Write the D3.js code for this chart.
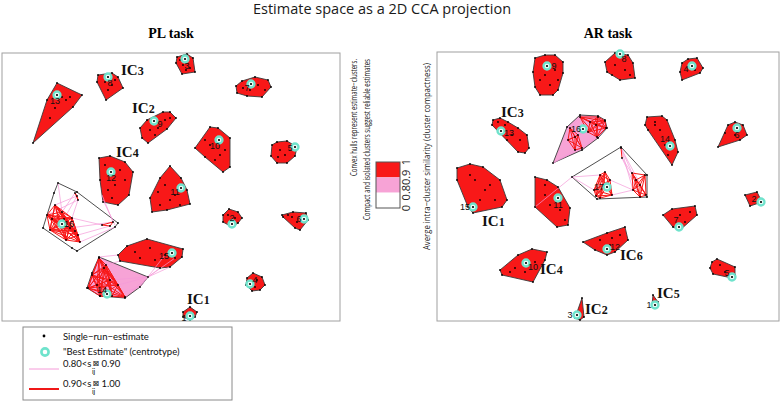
<!DOCTYPE html>
<html>
<head>
<meta charset="utf-8">
<script src="https://cdn.jsdelivr.net/npm/d3@7"></script>
<style>body{margin:0;background:#fff;}</style>
</head>
<body>
<script>
var width = 780;
var height = 402;

// cluster estimates, projection units (10px ~ 1 unit)
// sim = average intra-cluster similarity class
var plClusters = [
  {id: 8, sim: 0.95, best: [10.6, 24.4], lab: [10.8, 23.8], pts: [[9.6,24.6],[11.0,24.8],[11.6,24.4],[12.1,23.3],[10.4,22.1],[9.5,23.9],[10.3,23.9],[11.0,23.6],[10.6,23.1],[11.3,24.1]]},
  {id: 3, sim: 0.95, best: [18.3, 26.2], lab: [18.5, 25.5], pts: [[17.5,26.4],[18.5,26.7],[19.1,26.3],[19.3,24.9],[18.0,24.7],[17.4,25.8],[18.1,25.6],[18.8,25.3],[18.4,25.1],[17.8,26.1]]},
  {id: 9, sim: 0.95, best: [15.2, 20.0], lab: [15.8, 19.7], pts: [[13.8,19.3],[14.5,20.1],[16.1,20.9],[16.8,20.9],[17.4,20.3],[16.5,19.2],[14.6,17.8],[14.0,18.3],[14.8,19.1],[15.6,19.3],[16.3,20.1],[15.3,18.6],[16.8,20.3]]},
  {id: 13, sim: 0.95, best: [5.5, 22.6], lab: [5.3, 22.0], pts: [[5.5,23.8],[8.0,22.6],[7.1,21.4],[3.1,17.8],[4.5,22.1],[6.0,22.4],[5.3,21.3],[6.4,22.1],[4.8,20.3],[6.8,22.4]]},
  {id: 12, sim: 0.95, best: [10.9, 14.9], lab: [10.9, 14.3], pts: [[9.7,16.3],[10.8,16.5],[12.3,15.9],[13.1,14.9],[12.7,12.6],[11.6,11.6],[10.1,11.9],[9.8,14.1],[10.3,15.6],[11.8,15.1],[11.3,13.6],[10.6,13.1],[12.3,14.1],[11.0,12.3]]},
  {id: 11, sim: 0.95, best: [17.9, 13.3], lab: [17.3, 12.9], pts: [[16.8,15.5],[17.9,14.3],[18.5,13.1],[18.8,11.7],[16.5,11.1],[15.0,10.9],[14.8,12.3],[15.8,14.3],[16.3,13.6],[17.3,12.6],[15.8,11.6],[16.8,12.1],[17.8,11.6],[15.6,12.9]]},
  {id: 7, sim: 0.95, best: [24.9, 23.7], lab: [24.5, 23.3], pts: [[23.4,23.5],[24.0,24.0],[25.3,24.4],[26.6,24.1],[26.9,23.4],[26.0,22.4],[24.5,22.5],[23.5,22.8],[24.8,23.1],[25.6,23.6],[26.3,23.1],[24.1,23.3]]},
  {id: 10, sim: 0.95, best: [21.7, 18.1], lab: [21.3, 17.5], pts: [[19.3,17.3],[20.8,19.4],[21.6,19.3],[22.8,18.3],[22.8,15.4],[22.1,14.9],[20.3,16.4],[20.8,17.6],[21.8,16.6],[21.3,16.1],[22.3,17.1],[20.3,18.1]]},
  {id: 5, sim: 0.95, best: [29.3, 17.4], lab: [28.8, 17.3], pts: [[27.0,17.6],[27.5,17.9],[28.5,18.0],[29.5,17.4],[29.3,16.5],[28.5,15.8],[27.5,15.8],[26.9,16.5],[27.8,17.1],[28.3,16.6],[27.6,16.4]]},
  {id: 2, sim: 0.95, best: [23.0, 9.7], lab: [23.0, 10.3], pts: [[22.1,10.6],[22.7,11.2],[23.6,10.9],[24.0,10.3],[23.6,9.8],[23.0,9.4],[22.1,9.9],[22.6,10.6],[23.3,10.3]]},
  {id: 6, sim: 0.95, best: [30.2, 10.2], lab: [29.7, 10.2], pts: [[28.0,10.6],[29.1,10.9],[30.4,10.8],[30.6,10.1],[29.8,9.1],[29.3,9.3],[28.1,10.4],[29.0,10.4],[29.5,9.9],[28.6,10.6]]},
  {id: 4, sim: 0.95, best: [24.8, 3.7], lab: [25.3, 4.1], pts: [[24.5,4.3],[25.1,4.8],[26.0,4.4],[26.3,3.6],[25.8,3.1],[25.0,3.0],[24.4,3.6],[25.5,4.1],[25.3,3.4]]},
  {id: 1, sim: 0.95, best: [18.8, 0.5], lab: [18.2, 0.3], pts: [[18.1,0.9],[18.8,1.4],[19.5,0.9],[19.3,0.4],[18.8,0.1],[18.1,0.4]]},
  {id: 16, sim: 0.70, best: [6.0, 9.7], lab: [6.7, 9.7], pts: [[5.6,13.8],[7.5,12.9],[11.6,9.8],[11.3,9.4],[7.5,7.0],[7.0,7.3],[4.1,9.3],[5.2,12.8]]},
  {id: 15, sim: 0.95, best: [17.0, 6.8], lab: [16.2, 6.5], pts: [[11.6,6.6],[12.5,7.5],[14.5,8.2],[18.1,7.2],[18.0,6.4],[16.8,5.4],[15.8,5.3],[11.8,6.0],[13.3,6.9],[14.8,7.3],[16.3,6.6],[15.3,6.1],[17.3,6.3],[13.8,6.3]]},
  {id: 14, sim: 0.85, best: [10.5, 2.7], lab: [10.0, 3.1], pts: [[9.7,6.4],[14.6,4.4],[13.8,3.4],[12.3,2.3],[9.8,2.5],[8.5,3.3],[9.0,4.8]]}
];

// groups of estimates with similarity > 0.9 inside loose clusters
var plCores = [
  {id: 16, pts: [[4.5,10.6],[5.3,11.6],[6.0,10.9],[7.0,10.3],[7.6,8.6],[7.8,7.9],[6.4,8.1],[4.8,9.1],[5.8,9.5],[6.8,9.3],[5.0,10.2],[7.3,9.0],[6.2,10.2]]},
  {id: 16, pts: [[7.3,12.8],[7.6,12.1],[7.5,12.5]]},
  {id: 16, pts: [[10.0,9.6],[11.1,9.9],[10.8,9.5]]},
  {id: 14, pts: [[9.7,6.3],[10.2,5.3],[9.0,4.6],[8.6,3.3],[9.8,2.5],[11.0,2.5],[12.3,2.4],[11.6,3.6],[10.8,4.1],[10.4,5.6],[9.5,3.6]]}
];

// links with 0.80 < s <= 0.90
var plWeak = [
  [[7.5,12.5],[5.3,11.6]], [[7.3,12.8],[6.0,10.9]], [[7.6,12.1],[7.0,10.3]], [[7.6,12.1],[4.5,10.6]],
  [[7.5,12.5],[5.8,9.5]], [[5.6,13.8],[6.0,10.9]], [[10.0,9.6],[7.0,10.3]], [[10.8,9.5],[7.6,8.6]],
  [[11.1,9.9],[6.8,9.3]], [[11.3,9.4],[7.8,7.9]], [[10.0,12.6],[11.1,9.9]], [[10.1,12.1],[11.3,9.6]],
  [[14.6,4.4],[15.8,5.3]], [[14.6,4.4],[16.8,5.4]], [[13.8,3.4],[16.3,6.6]], [[14.6,4.4],[17.3,6.3]],
  [[9.7,6.4],[11.6,6.6]], [[10.4,5.6],[11.8,6.0]], [[12.3,2.4],[14.6,4.4]], [[11.6,3.6],[14.6,4.4]],
  [[11.0,2.5],[13.8,3.4]], [[10.8,4.1],[14.6,4.4]]
];

var plIC = [["IC", "3", 11.9, 24.6], ["IC", "2", 13.0, 20.8], ["IC", "4", 11.4, 16.4], ["IC", "1", 18.5, 1.7]];

var arClusters = [
  {id: 9, sim: 0.95, best: [11.0, 25.5], lab: [11.7, 25.5], pts: [[9.8,26.3],[10.8,26.6],[11.8,26.6],[12.6,25.9],[12.6,24.8],[12.1,23.1],[11.6,22.6],[10.3,22.6],[9.8,23.4],[9.6,24.9],[10.8,24.6],[11.8,25.1],[11.3,23.6],[12.1,24.1],[10.3,24.1]]},
  {id: 13, sim: 0.95, best: [6.4, 19.0], lab: [7.2, 18.8], pts: [[5.6,20.1],[6.3,20.3],[7.1,19.9],[8.1,19.3],[9.0,18.6],[9.2,17.3],[8.8,16.8],[8.1,16.9],[7.0,18.1],[5.5,19.6],[6.8,19.6],[7.5,18.6],[8.3,18.1],[6.1,19.9]]},
  {id: 16, sim: 0.85, best: [14.6, 19.2], lab: [13.9, 19.2], pts: [[13.0,19.4],[14.3,20.6],[16.1,20.5],[16.8,20.1],[17.0,19.3],[16.1,18.3],[14.5,17.1],[11.6,15.8]]},
  {id: 17, sim: 0.70, best: [17.0, 13.4], lab: [16.2, 13.4], pts: [[13.5,14.4],[18.4,17.4],[21.0,14.6],[21.0,12.4],[16.0,12.2]]},
  {id: 8, sim: 0.95, best: [18.3, 26.7], lab: [18.7, 26.2], pts: [[16.8,25.9],[17.8,26.8],[19.1,26.6],[19.6,25.8],[19.8,24.3],[18.3,24.1],[17.0,24.9],[17.8,25.6],[18.8,25.1],[19.3,24.6],[17.5,24.6]]},
  {id: 4, sim: 0.95, best: [25.5, 25.5], lab: [24.9, 25.2], pts: [[24.5,25.8],[25.1,26.2],[26.0,26.3],[26.6,25.3],[26.3,24.8],[24.5,24.1],[24.3,24.9],[25.8,25.1]]},
  {id: 14, sim: 0.95, best: [23.3, 17.5], lab: [22.8, 18.2], pts: [[21.0,20.4],[22.5,20.5],[23.0,20.1],[23.8,18.1],[24.1,16.9],[23.5,15.6],[21.1,19.1],[20.8,19.6],[21.8,19.9],[22.3,19.1],[22.8,17.6],[23.1,16.6],[21.8,19.6]]},
  {id: 6, sim: 0.95, best: [30.0, 19.3], lab: [30.0, 18.6], pts: [[29.1,19.6],[29.8,19.9],[30.6,19.6],[31.0,18.6],[30.3,18.1],[28.1,17.4],[28.8,18.8],[29.8,18.6],[30.3,19.1]]},
  {id: 2, sim: 0.95, best: [32.4, 11.9], lab: [31.7, 12.2], pts: [[30.8,12.6],[32.0,12.9],[32.5,11.9],[31.3,11.5]]},
  {id: 7, sim: 0.95, best: [24.2, 9.4], lab: [23.9, 10.1], pts: [[22.6,10.6],[23.5,11.2],[25.8,11.5],[26.0,10.6],[24.3,9.1],[23.6,9.4],[24.3,10.6],[25.3,10.9],[24.8,9.9]]},
  {id: 12, sim: 0.95, best: [17.0, 7.2], lab: [17.8, 7.4], pts: [[14.6,7.9],[17.0,8.8],[18.8,9.4],[19.1,8.1],[17.8,6.9],[17.0,6.6],[15.8,7.1],[16.3,8.1],[17.5,8.3],[18.3,8.6],[17.3,7.6]]},
  {id: 5, sim: 0.95, best: [29.5, 4.4], lab: [29.0, 4.8], pts: [[27.5,5.9],[28.0,6.2],[29.8,5.4],[29.8,4.6],[29.5,4.3],[27.6,4.7],[27.3,5.3],[28.3,5.6],[28.8,4.9]]},
  {id: 1, sim: 0.95, best: [21.8, 1.6], lab: [21.2, 1.6], pts: [[21.6,2.6],[22.1,1.9],[22.0,1.5],[21.5,1.6]]},
  {id: 15, sim: 0.95, best: [3.6, 11.4], lab: [2.8, 11.4], pts: [[2.0,15.3],[3.3,15.7],[4.6,15.4],[6.3,14.1],[7.0,12.1],[6.5,11.4],[3.6,10.8],[3.1,11.4],[2.0,14.1],[3.8,14.1],[4.8,13.1],[5.8,12.1],[4.3,12.1],[3.3,14.6],[5.3,13.6]]},
  {id: 11, sim: 0.95, best: [12.1, 12.3], lab: [12.1, 11.6], pts: [[9.8,14.4],[11.0,14.1],[12.1,13.4],[13.3,11.3],[13.1,9.6],[12.0,9.4],[9.8,11.4],[10.8,12.6],[11.3,11.6],[12.3,11.1],[12.8,10.1],[10.8,13.6]]},
  {id: 10, sim: 0.95, best: [8.9, 5.8], lab: [9.6, 5.4], pts: [[6.3,5.1],[8.1,6.6],[9.5,7.2],[11.0,6.9],[10.8,6.1],[9.6,3.9],[6.5,4.6],[7.8,5.3],[8.8,4.9],[9.8,5.9],[7.3,4.9]]},
  {id: 3, sim: 0.95, best: [14.0, 0.6], lab: [13.3, 0.6], pts: [[14.5,2.3],[14.7,0.4],[14.3,0.1],[13.8,0.3]]}
];

var arCores = [
  {id: 16, pts: [[14.3,20.4],[16.1,20.4],[16.8,20.0],[16.9,19.3],[16.0,18.4],[15.1,18.9],[15.3,19.9],[15.9,19.6]]},
  {id: 16, pts: [[13.3,19.3],[14.1,18.6],[14.5,17.3],[13.8,17.1],[13.1,18.1],[13.8,18.4]]},
  {id: 17, pts: [[15.7,13.1],[16.3,14.6],[16.8,14.9],[17.3,14.1],[17.5,12.6],[16.3,12.3],[15.9,12.5],[16.7,13.6]]},
  {id: 17, pts: [[19.5,14.8],[20.8,14.6],[20.9,12.6],[20.3,12.4],[19.6,13.1],[19.9,14.1],[20.3,13.6]]},
  {id: 17, pts: [[18.4,17.3],[18.5,16.3]]}
];

var arWeak = [
  [[11.6,15.8],[13.8,17.1]], [[11.6,15.8],[14.5,17.3]], [[14.1,18.6],[15.1,18.9]], [[13.3,19.3],[14.3,20.4]],
  [[14.5,17.3],[16.0,18.4]], [[13.1,18.1],[15.3,19.9]],
  [[18.4,17.3],[19.5,14.8]], [[18.4,17.3],[19.6,13.1]], [[18.5,16.3],[20.3,12.4]], [[18.5,16.3],[19.9,14.1]],
  [[18.4,17.3],[20.9,12.6]], [[17.3,14.1],[19.6,13.1]], [[17.5,12.6],[19.6,13.1]],
  [[13.5,14.4],[15.7,13.1]], [[13.5,14.4],[16.3,14.6]], [[9.8,11.4],[13.5,14.4]]
];

var arIC = [["IC", "3", 6.4, 20.4], ["IC", "1", 4.5, 9.5], ["IC", "4", 10.3, 4.7], ["IC", "6", 18.3, 6.1], ["IC", "5", 22.0, 2.3], ["IC", "2", 14.8, 0.7]];

var barTicks = ["1", "0.9", "0.8", "0"];
var barSims = [0.95, 0.85, 0.5];
var sideLabels = ["Convex hulls represent estimate\u2212clusters.", "Compact and isolated clusters suggest reliable estimates"];
var barTitle = "Averge intra\u2212cluster similarity (cluster compactness)";

var simColor = d3.scaleThreshold()
  .domain([0.8, 0.9])
  .range(["#ffffff", "#f7a3d6", "#f81818"]);

var svg = d3.select("body")
  .append("svg")
  .attr("width", width)
  .attr("height", height)
  .style("background", "#fff");

svg.append("text")
  .attr("x", 382).attr("y", 14)
  .attr("text-anchor", "middle")
  .attr("font-family", "Open Sans")
  .attr("font-size", "14.5px")
  .attr("fill", "#1a1a1a")
  .text("Estimate space as a 2D CCA projection");

function drawPanel(title, clusters, cores, weak, ics, left, right, top, bottom) {
  var xScale = d3.scaleLinear().domain([0, (right - left) / 10]).range([left, right]);
  var yScale = d3.scaleLinear().domain([0, (bottom - top) / 10]).range([bottom, top]);
  var px = function(d) { return [xScale(d[0]), yScale(d[1])]; };
  var g = svg.append("g");

  svg.append("text")
    .attr("x", (left + right) / 2).attr("y", 38)
    .attr("text-anchor", "middle")
    .attr("font-family", "Liberation Serif")
    .attr("font-weight", "bold")
    .attr("font-size", "14px")
    .text(title);

  g.append("rect")
    .attr("x", left).attr("y", top)
    .attr("width", right - left).attr("height", bottom - top)
    .attr("fill", "none")
    .attr("stroke", "#a0a0a0")
    .attr("stroke-width", 1);

  // hulls
  g.selectAll("path.hull")
    .data(clusters)
    .enter()
    .append("path")
    .attr("class", "hull")
    .attr("d", function(c) {
      var all = c.pts.slice();
      cores.forEach(function(k) { if (k.id === c.id) all = all.concat(k.pts); });
      var hull = d3.polygonHull(all.map(px));
      return "M" + hull.join("L") + "Z";
    })
    .attr("fill", function(c) { return simColor(c.sim); })
    .attr("stroke", "#3a3a3a")
    .attr("stroke-width", 0.9)
    .attr("stroke-linejoin", "round");

  // weak links
  g.selectAll("line.weak")
    .data(weak)
    .enter()
    .append("line")
    .attr("x1", function(d) { return xScale(d[0][0]); })
    .attr("y1", function(d) { return yScale(d[0][1]); })
    .attr("x2", function(d) { return xScale(d[1][0]); })
    .attr("y2", function(d) { return yScale(d[1][1]); })
    .attr("stroke", "#f59ad8")
    .attr("stroke-width", 0.7);

  // strong links inside cores
  var strong = [];
  cores.forEach(function(k) {
    for (var i = 0; i < k.pts.length; i++)
      for (var j = i + 1; j < k.pts.length; j++) strong.push([k.pts[i], k.pts[j]]);
  });
  g.selectAll("line.strong")
    .data(strong)
    .enter()
    .append("line")
    .attr("x1", function(d) { return xScale(d[0][0]); })
    .attr("y1", function(d) { return yScale(d[0][1]); })
    .attr("x2", function(d) { return xScale(d[1][0]); })
    .attr("y2", function(d) { return yScale(d[1][1]); })
    .attr("stroke", "#f81818")
    .attr("stroke-width", 1);

  // single-run estimates
  var dots = [];
  clusters.forEach(function(c) { dots = dots.concat(c.pts); });
  cores.forEach(function(k) { dots = dots.concat(k.pts); });
  g.selectAll("circle.est")
    .data(dots)
    .enter()
    .append("circle")
    .attr("cx", function(d) { return xScale(d[0]); })
    .attr("cy", function(d) { return yScale(d[1]); })
    .attr("r", 0.9)
    .attr("fill", "#000");

  // centrotypes
  g.selectAll("circle.best")
    .data(clusters)
    .enter()
    .append("circle")
    .attr("cx", function(c) { return xScale(c.best[0]); })
    .attr("cy", function(c) { return yScale(c.best[1]); })
    .attr("r", 3.5)
    .attr("fill", "#eefdf9")
    .attr("stroke", "#6fe3cc")
    .attr("stroke-width", 2.3);
  g.selectAll("circle.bestc")
    .data(clusters)
    .enter()
    .append("circle")
    .attr("cx", function(c) { return xScale(c.best[0]); })
    .attr("cy", function(c) { return yScale(c.best[1]); })
    .attr("r", 1.1)
    .attr("fill", "#000");

  // cluster numbers
  g.selectAll("text.num")
    .data(clusters)
    .enter()
    .append("text")
    .attr("x", function(c) { return xScale(c.lab[0]); })
    .attr("y", function(c) { return yScale(c.lab[1]); })
    .attr("dy", "0.35em")
    .attr("text-anchor", "middle")
    .attr("font-family", "Liberation Sans")
    .attr("font-size", "9px")
    .attr("fill", "#111")
    .text(function(c) { return c.id; });

  // IC annotations
  var ic = g.selectAll("text.ic")
    .data(ics)
    .enter()
    .append("text")
    .attr("x", function(d) { return xScale(d[2]); })
    .attr("y", function(d) { return yScale(d[3]); })
    .attr("font-family", "Liberation Serif")
    .attr("font-weight", "bold")
    .attr("fill", "#111");
  ic.append("tspan").attr("font-size", "15px").text(function(d) { return d[0]; });
  ic.append("tspan").attr("font-size", "12px").text(function(d) { return d[1]; });
}

drawPanel("PL task", plClusters, plCores, plWeak, plIC, 2, 340, 53, 321);
drawPanel("AR task", arClusters, arCores, arWeak, arIC, 437, 779, 52, 321);

// side notes
var sideX = [357, 370];
var sideLen = [117, 161];
sideLabels.forEach(function(t, i) {
  svg.append("text")
    .attr("transform", "translate(" + sideX[i] + ",59) rotate(-90)")
    .attr("text-anchor", "end")
    .attr("font-family", "Open Sans")
    .attr("font-size", "8.5px")
    .attr("fill", "#222")
    .attr("textLength", sideLen[i])
    .attr("lengthAdjust", "spacingAndGlyphs")
    .text(t);
});

// colour bar
var barY = d3.scalePoint().domain(barTicks).range([162, 208]);
svg.selectAll("rect.bar")
  .data(barSims)
  .enter()
  .append("rect")
  .attr("x", 376)
  .attr("y", function(d, i) { return barY(barTicks[i]); })
  .attr("width", 24)
  .attr("height", function(d, i) { return barY(barTicks[i + 1]) - barY(barTicks[i]); })
  .attr("fill", function(d) { return simColor(d); });
svg.append("rect")
  .attr("x", 376).attr("y", 162).attr("width", 24).attr("height", 46)
  .attr("fill", "none").attr("stroke", "#555").attr("stroke-width", 1);
svg.selectAll("text.bartick")
  .data(barTicks)
  .enter()
  .append("text")
  .attr("transform", function(d) { return "translate(410," + barY(d) + ") rotate(-90)"; })
  .attr("text-anchor", "middle")
  .attr("font-family", "Open Sans")
  .attr("font-size", "11px")
  .attr("fill", "#222")
  .text(function(d) { return d; });
svg.append("text")
  .attr("transform", "translate(430,63) rotate(-90)")
  .attr("text-anchor", "end")
  .attr("font-family", "Open Sans")
  .attr("font-size", "9px")
  .attr("fill", "#222")
  .attr("textLength", 187)
  .attr("lengthAdjust", "spacingAndGlyphs")
  .text(barTitle);

// legend
var legend = svg.append("g");
legend.append("rect")
  .attr("x", 23).attr("y", 327).attr("width", 209).attr("height", 73)
  .attr("fill", "#fff").attr("stroke", "#8a8a8a").attr("stroke-width", 1);
legend.append("circle").attr("cx", 44).attr("cy", 336).attr("r", 1.4).attr("fill", "#000");
legend.append("circle").attr("cx", 45).attr("cy", 352).attr("r", 3.6)
  .attr("fill", "#fff").attr("stroke", "#6fe3cc").attr("stroke-width", 2.6);
legend.append("line").attr("x1", 29).attr("x2", 59).attr("y1", 369).attr("y2", 369)
  .attr("stroke", "#f59ad8").attr("stroke-width", 1);
legend.append("line").attr("x1", 29).attr("x2", 59).attr("y1", 389).attr("y2", 389)
  .attr("stroke", "#f01818").attr("stroke-width", 2);

var legendText = ["Single\u2212run\u2212estimate", "\"Best Estimate\" (centrotype)"];
var legendY = [340, 355];
legendText.forEach(function(t, i) {
  legend.append("text")
    .attr("x", 63).attr("y", legendY[i])
    .attr("font-family", "Lato")
    .attr("font-size", "9.5px")
    .attr("fill", "#111")
    .text(t);
});

var rangeText = [["0.80<s", "0.90"], ["0.90<s", "1.00"]];
var rangeY = [367, 387];
rangeText.forEach(function(r, i) {
  var t1 = legend.append("text")
    .attr("x", 63).attr("y", rangeY[i])
    .attr("font-family", "Lato").attr("font-size", "9.5px").attr("fill", "#111")
    .text(r[0]);
  var w = t1.node().getComputedTextLength();
  legend.append("text")
    .attr("x", 63 + w + 0.5).attr("y", rangeY[i] + 7)
    .attr("font-family", "Lato").attr("font-size", "7px").attr("fill", "#111")
    .text("ij");
  legend.append("text")
    .attr("x", 63 + w + 1).attr("y", rangeY[i] - 1)
    .attr("font-family", "DejaVu Sans").attr("font-size", "8px").attr("fill", "#111")
    .text("\u22a0");
  legend.append("text")
    .attr("x", 63 + w + 10).attr("y", rangeY[i])
    .attr("font-family", "Lato").attr("font-size", "9.5px").attr("fill", "#111")
    .text(r[1]);
});
</script>
</body>
</html>
